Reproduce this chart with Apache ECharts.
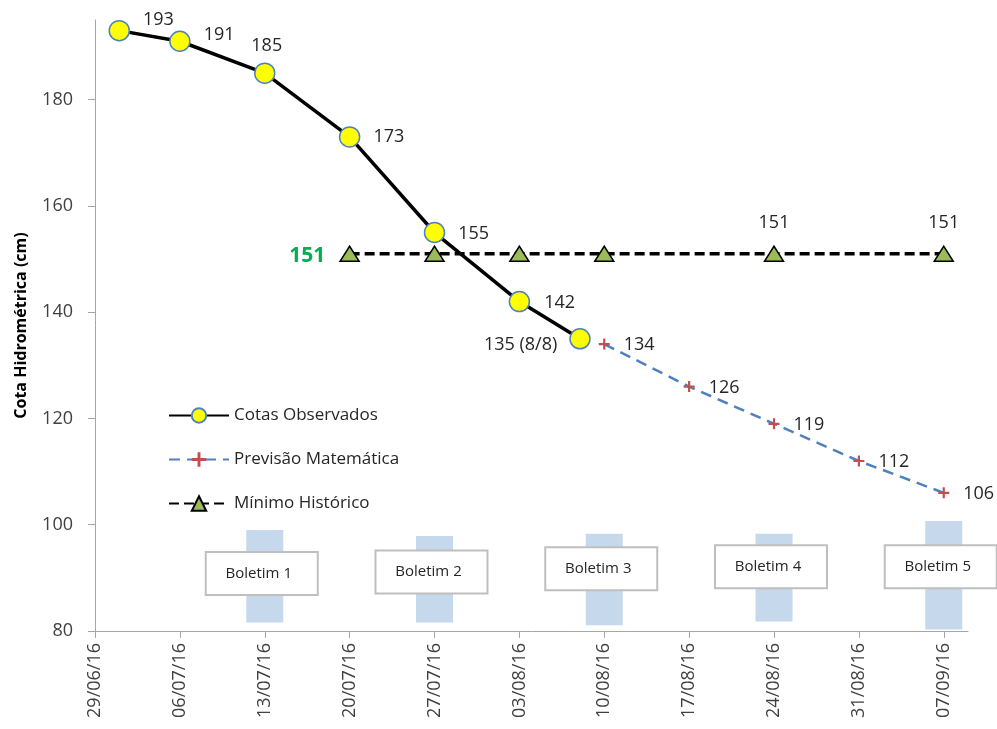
<!DOCTYPE html>
<html>
<head>
<meta charset="utf-8">
<script src="https://cdn.jsdelivr.net/npm/echarts@6/dist/echarts.min.js"></script>
<style>
  html, body { margin: 0; padding: 0; background: #fff; }
  #chart { width: 997px; height: 729px; }
</style>
</head>
<body>
<div id="chart"></div>
<script>
// Weekly tick dates along the time axis
const tickDates = ['29/06/16', '06/07/16', '13/07/16', '20/07/16', '27/07/16', '03/08/16',
                   '10/08/16', '17/08/16', '24/08/16', '31/08/16', '07/09/16'];
const yTicks = [80, 100, 120, 140, 160, 180];

// Observed gauge levels
const obsDates = ['01/07/16', '06/07/16', '13/07/16', '20/07/16', '27/07/16', '03/08/16', '08/08/16'];
const obsValues = [193, 191, 185, 173, 155, 142, 135];

// Mathematical forecast
const fcDates = ['10/08/16', '17/08/16', '24/08/16', '31/08/16', '07/09/16'];
const fcValues = [134, 126, 119, 112, 106];

// Historical minimum
const minDates = ['20/07/16', '27/07/16', '03/08/16', '10/08/16', '24/08/16', '07/09/16'];
const minValues = [151, 151, 151, 151, 151, 151];

// Bulletin markers: shaded band (low/high) and caption box level
const bulDates = ['13/07/16', '27/07/16', '10/08/16', '24/08/16', '07/09/16'];
const bulLow = [81.6, 81.6, 81.1, 81.8, 80.3];
const bulHigh = [99.0, 97.9, 98.3, 98.3, 100.7];
const bulBoxLevel = [90.8, 91.1, 91.7, 92.1, 92.1];
const bulNames = ['Boletim 1', 'Boletim 2', 'Boletim 3', 'Boletim 4', 'Boletim 5'];

const FONT = "'Open Sans', 'Liberation Sans', sans-serif";
const t0 = Date.UTC(2016, 5, 29);
function dayOf(s) {
  const [d, m, y] = s.split('/').map(Number);
  return Math.round((Date.UTC(2000 + y, m - 1, d) - t0) / 86400000);
}
function dateOf(day) {
  const dt = new Date(t0 + day * 86400000);
  const dd = String(dt.getUTCDate()).padStart(2, '0');
  const mm = String(dt.getUTCMonth() + 1).padStart(2, '0');
  const yy = String(dt.getUTCFullYear() % 100).padStart(2, '0');
  return dd + '/' + mm + '/' + yy;
}
const tickDays = tickDates.map(dayOf);
const axisEnd = dayOf('09/09/16');

const labelText = { color: '#262626', fontSize: 18, fontFamily: FONT };

// Observed series with per-point label placement
const obsLabelCfg = [
  { position: 'right', distance: 13, offset: [0, -11] },
  { position: 'right', distance: 13, offset: [0, -6] },
  { position: 'top', distance: 8, offset: [2, 0] },
  { position: 'right', distance: 13, offset: [0, 0] },
  { position: 'right', distance: 13, offset: [0, 1] },
  { position: 'right', distance: 14, offset: [0, 1] },
  { position: 'left', distance: 12, offset: [0, 6] }
];
const obsData = obsDates.map((d, i) => ({
  value: [dayOf(d), obsValues[i]],
  label: Object.assign({ show: true }, labelText, obsLabelCfg[i],
    i === obsDates.length - 1
      ? { formatter: () => { const p = d.split('/'); return obsValues[i] + ' (' + (+p[0]) + '/' + (+p[1]) + ')'; } }
      : { formatter: () => String(obsValues[i]) })
}));

const fcData = fcDates.map((d, i) => ({
  value: [dayOf(d), fcValues[i]],
  label: Object.assign({ show: true, position: 'right', distance: 14, offset: [0, 1],
    formatter: () => String(fcValues[i]) }, labelText)
}));

// Minimum series: green bold value on the first point, plain values above the 24/08 and 07/09 points
const minData = minDates.map((d, i) => {
  let label = { show: false };
  if (i === 0) {
    label = { show: true, position: 'left', distance: 14, offset: [0, 2],
      formatter: () => String(minValues[i]), color: '#00b050', fontSize: 21, fontWeight: 'bold', fontFamily: FONT };
  } else if (d === '24/08/16' || d === '07/09/16') {
    label = Object.assign({ show: true, position: 'top', distance: 14,
      formatter: () => String(minValues[i]) }, labelText);
  }
  return { value: [dayOf(d), minValues[i]], label };
});

const bandData = bulDates.map((d, i) => [dayOf(d), bulLow[i], bulHigh[i]]);
const boxData = bulDates.map((d, i) => [dayOf(d), bulBoxLevel[i]]);

const plusPath = 'path://M4,0H6V4H10V6H6V10H4V6H0V4H4Z';

const chart = echarts.init(document.getElementById('chart'), null, { renderer: 'canvas' });
chart.setOption({
  animation: false,
  backgroundColor: '#ffffff',
  grid: { left: 95, right: 29, top: 20, bottom: 98, containLabel: false },
  legend: {
    data: ['Cotas Observados', 'Previsão Matemática', 'Mínimo Histórico'],
    orient: 'vertical',
    left: 163,
    top: 402,
    itemWidth: 60,
    itemHeight: 18,
    itemGap: 27,
    textStyle: { color: '#262626', fontSize: 17, fontFamily: FONT },
    selectedMode: false
  },
  xAxis: {
    type: 'value',
    min: 0,
    max: axisEnd,
    axisLine: { show: true, onZero: false, lineStyle: { color: '#a6a6a6', width: 1 } },
    axisTick: { show: true, inside: false, length: 7, customValues: tickDays, lineStyle: { color: '#a6a6a6' } },
    axisLabel: {
      customValues: tickDays,
      rotate: 90,
      margin: 12,
      color: '#404040',
      fontSize: 18,
      fontFamily: FONT,
      formatter: v => dateOf(v)
    },
    splitLine: { show: false }
  },
  yAxis: {
    type: 'value',
    min: 80,
    max: 195,
    name: 'Cota Hidrométrica (cm)',
    nameLocation: 'middle',
    nameGap: 66,
    nameTextStyle: { color: '#000', fontSize: 16, fontWeight: 'bold', fontFamily: FONT },
    axisLine: { show: true, lineStyle: { color: '#a6a6a6', width: 1 } },
    axisTick: { show: true, inside: false, length: 7, customValues: yTicks, lineStyle: { color: '#a6a6a6' } },
    axisLabel: { customValues: yTicks, margin: 22, color: '#404040', fontSize: 18, fontFamily: FONT },
    splitLine: { show: false }
  },
  series: [
    {
      type: 'custom',
      name: 'bands',
      z: 1,
      silent: true,
      encode: { x: 0, y: [1, 2] },
      data: bandData,
      renderItem: (params, api) => {
        const top = api.coord([api.value(0), api.value(2)]);
        const bot = api.coord([api.value(0), api.value(1)]);
        return {
          type: 'rect',
          shape: { x: top[0] - 18.5, y: top[1], width: 37, height: bot[1] - top[1] },
          style: { fill: '#c6d8ec' }
        };
      }
    },
    {
      type: 'custom',
      name: 'boxes',
      z: 2,
      silent: true,
      clip: false,
      encode: { x: 0, y: 1 },
      data: boxData,
      renderItem: (params, api) => {
        const c = api.coord([api.value(0), api.value(1)]);
        const cx = c[0] - 3;
        return {
          type: 'group',
          children: [
            {
              type: 'rect',
              shape: { x: cx - 56, y: c[1] - 21.5, width: 112, height: 43 },
              style: { fill: '#ffffff', stroke: '#bfbfbf', lineWidth: 2 }
            },
            {
              type: 'text',
              style: {
                text: bulNames[params.dataIndex],
                x: cx - 3, y: c[1],
                align: 'center', verticalAlign: 'middle',
                fill: '#262626', fontSize: 15, fontFamily: FONT
              }
            }
          ]
        };
      }
    },
    {
      type: 'line',
      name: 'Mínimo Histórico',
      z: 3,
      data: minData,
      symbol: 'triangle',
      symbolSize: [19, 15],
      itemStyle: { color: '#9bbb59', borderColor: '#000000', borderWidth: 1.5 },
      lineStyle: { color: '#000000', width: 3.5, type: [10, 5] }
    },
    {
      type: 'line',
      name: 'Previsão Matemática',
      z: 4,
      data: fcData,
      symbol: plusPath,
      symbolSize: 11,
      itemStyle: { color: '#c0504d' },
      lineStyle: { color: '#4f81bd', width: 2.5, type: [11, 7] }
    },
    {
      type: 'line',
      name: 'Cotas Observados',
      z: 5,
      data: obsData,
      symbol: 'circle',
      symbolSize: 20,
      itemStyle: { color: '#ffff00', borderColor: '#4f81bd', borderWidth: 1.5 },
      lineStyle: { color: '#000000', width: 3.5 }
    }
  ]
});
</script>
</body>
</html>
